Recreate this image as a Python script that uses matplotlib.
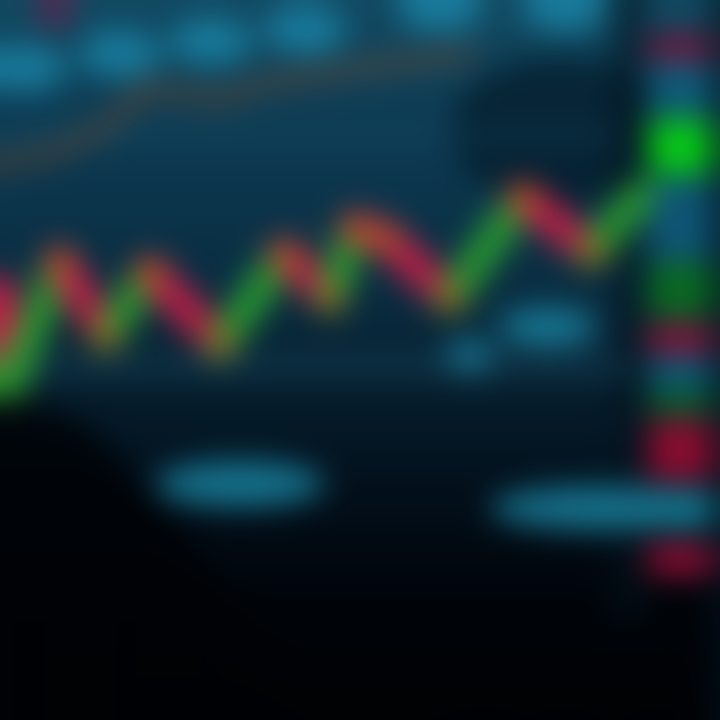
import numpy as np
import matplotlib
matplotlib.use("Agg")
from matplotlib import pyplot as plt
from matplotlib.patches import Ellipse, Polygon, Rectangle
from matplotlib.colors import LinearSegmentedColormap

W = H = 720

# background colour stops (pixel row, colour)
bgRows = [0, 130, 300, 400, 500, 600, 720]
bgColors = ['#124a62', '#0d3b53', '#0a2c40', '#061d2c', '#030f1a', '#01050a', '#000204']

# main zig-zag price line (x pixel, y pixel)
priceX = [0, 10, 60, 106, 150, 220, 285, 330, 355, 385, 450, 523, 592, 640]
priceY = [292, 384, 262, 336, 272, 344, 254, 298, 228, 238, 298, 198, 252, 196]

# faint upper line
upperX = [0, 60, 117, 140, 180, 220, 267, 333, 400, 470]
upperY = [165, 150, 120, 90, 92, 100, 82, 73, 62, 55]

# blurred labels on top
labelX = [25, 120, 211, 305, 440, 565]
labelY = [68, 54, 42, 30, 8, 8]

# lower blurred labels
lowX = [240, 470, 548, 600]
lowY = [484, 357, 327, 508]
lowW = [170, 50, 100, 220]
lowH = [46, 36, 40, 44]

# right-hand bar segments
barTop = [36, 60, 119, 180, 262, 325, 357, 393, 420, 490, 544]
barBottom = [60, 115, 175, 260, 317, 353, 389, 413, 480, 528, 575]
barColors = ['#7a0f35', '#0f5a78', '#08c818', '#0f5575', '#0a6a22', '#8c1238',
             '#0f5a78', '#0b6a25', '#8a0d30', '#137890', '#8e0f35']

GREEN = '#2a9a30'
RED = '#c41e48'
ORANGE = '#c06a1c'


def boxBlur(img, r, axis):
    pad = [(0, 0)] * img.ndim
    pad[axis] = (r + 1, r)
    p = np.pad(img, pad, mode='edge')
    c = np.cumsum(p, axis=axis)
    n = img.shape[axis]
    hi = np.take(c, np.arange(2 * r + 1, 2 * r + 1 + n), axis=axis)
    lo = np.take(c, np.arange(0, n), axis=axis)
    return (hi - lo) / (2 * r + 1)


def gaussBlur(img, r):
    out = img
    for _ in range(3):
        out = boxBlur(out, r, 0)
        out = boxBlur(out, r, 1)
    return out


#__________ scene __________
fig = plt.figure(figsize=(7.2, 7.2), dpi=100)
ax = fig.add_axes([0, 0, 1, 1])

cmap = LinearSegmentedColormap.from_list(
    'bg', list(zip([r / H for r in bgRows], bgColors)))
grad = np.linspace(0, 1, 256).reshape(-1, 1)
ax.imshow(grad, cmap=cmap, extent=[0, W, H, 0], aspect='auto')

# darker zones
ax.add_patch(Ellipse((560, 130), 220, 150, color='#031522', alpha=0.6, lw=0))
ax.add_patch(Rectangle((612, 0), 34, 620, color='#04141f', alpha=0.6, lw=0))
ax.add_patch(Rectangle((712, 0), 10, 720, color='#031420', alpha=0.8, lw=0))
ax.add_patch(Polygon([(0, 390), (90, 425), (170, 515), (330, 720), (0, 720)],
                     color='#000205', alpha=0.8, lw=0))

# faint horizontal grid bands
ax.plot([0, 610], [135, 135], color='#1d5a76', lw=9, alpha=0.35)
ax.plot([40, 620], [366, 366], color='#1c4e66', lw=12, alpha=0.55)

# top labels
for x, y in zip(labelX, labelY):
    ax.add_patch(Ellipse((x, y), 84, 48, color='#1c8cb0', alpha=0.75, lw=0))
ax.add_patch(Ellipse((55, 12), 36, 30, color='#7a1a48', alpha=0.7, lw=0))

# lower labels
for x, y, w, h in zip(lowX, lowY, lowW, lowH):
    ax.add_patch(Ellipse((x, y), w, h, color='#1a84a2', alpha=0.85, lw=0))

# faint upper line
ax.plot(upperX, upperY, color='#a8521c', lw=11, alpha=0.4,
        solid_capstyle='round', solid_joinstyle='round')

# main zig-zag
for i in range(len(priceX) - 1):
    col = GREEN if priceY[i + 1] < priceY[i] else RED
    ax.plot(priceX[i:i + 2], priceY[i:i + 2], color=col, lw=23,
            solid_capstyle='round')
ax.scatter(priceX[2:-1], priceY[2:-1], s=380, color=ORANGE, alpha=0.8,
           lw=0, zorder=5)

# right bar
ax.bar([680] * len(barTop), np.array(barBottom) - np.array(barTop),
       bottom=barTop, width=64, color=barColors, lw=0)

ax.set_xlim(0, W)
ax.set_ylim(H, 0)
ax.axis('off')

fig.canvas.draw()
img = np.asarray(fig.canvas.buffer_rgba())[..., :3].astype(float) / 255
plt.close(fig)

img = gaussBlur(img, 14)

#__________ output __________
fig2 = plt.figure(figsize=(7.2, 7.2), dpi=100)
ax2 = fig2.add_axes([0, 0, 1, 1])
ax2.imshow(np.clip(img, 0, 1), aspect='auto', interpolation='bilinear')
ax2.axis('off')
fig2.savefig('out.png', dpi=100)
